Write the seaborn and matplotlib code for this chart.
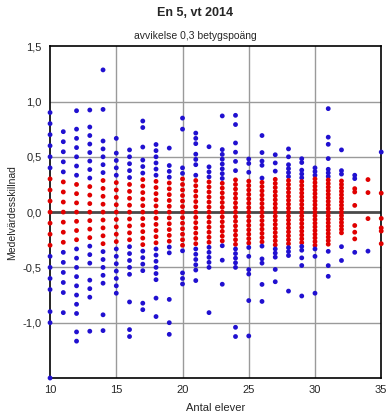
import numpy as np
import pandas as pd
import matplotlib
matplotlib.use("Agg")
import matplotlib.pyplot as plt
import seaborn as sns

# Summa avvikelse (betygspoäng) per klass, avläst i diagrammet, per antal elever
n10 = [9, 8, 7, 6, 5, 4, 3, 2, 1, 0, -1, -2, -3, -4, -5, -6, -7, -9, -10, -15]
n11 = [8, 7, 6, 5, 4, 3, 2, 1, 0, -1, -2, -3, -4, -5, -6, -7, -8, -10]
n12 = [11, 9, 8, 7, 6, 5, 4, 3, 2, 1, 0, -1, -2, -3, -4, -5, -6, -7, -8, -9, -10, -11, -13, -14]
n13 = [12, 10, 9, 8, 7, 6, 5, 4, 3, 2, 1, 0, -1, -2, -3, -4, -5, -6, -8, -9, -10, -14]
n14 = [18, 13, 9, 8, 7, 6, 5, 4, 3, 2, 1, 0, -1, -2, -3, -4, -5, -6, -7, -8, -9, -13, -15]
n15 = [10, 8, 7, 6, 5, 4, 3, 2, 1, 0, -1, -2, -3, -4, -5, -6, -7, -8, -9, -10, -11]
n16 = [9, 8, 7, 6, 5, 4, 3, 2, 1, 0, -1, -2, -3, -4, -5, -6, -7, -8, -9, -13, -17, -18]
n17 = [14, 13, 10, 8, 7, 6, 5, 4, 3, 2, 1, 0, -1, -2, -3, -4, -5, -6, -7, -8, -9, -14, -15]
n18 = [11, 10, 9, 8, 7, 6, 5, 4, 3, 2, 1, 0, -1, -2, -3, -4, -5, -6, -7, -8, -9, -10, -11, -14, -17]
n19 = [11, 8, 7, 6, 5, 4, 3, 2, 1, 0, -1, -2, -3, -4, -5, -6, -7, -15, -19, -21]
n20 = [17, 15, 8, 7, 6, 5, 4, 3, 2, 1, 0, -1, -2, -3, -4, -5, -6, -7, -11, -12, -13]
n21 = [15, 14, 13, 11, 10, 9, 7, 6, 5, 4, 3, 2, 1, 0, -1, -2, -3, -4, -5, -6, -7, -8, -9, -10, -11, -13]
n22 = [13, 9, 8, 7, 6, 5, 4, 3, 2, 1, 0, -1, -2, -3, -4, -5, -6, -7, -8, -9, -10, -11, -20]
n23 = [20, 13, 12, 11, 10, 9, 8, 7, 6, 5, 4, 3, 2, 1, 0, -1, -2, -3, -4, -5, -6, -7, -10, -15]
n24 = [21, 19, 15, 13, 11, 9, 7, 6, 5, 4, 3, 2, 1, 0, -1, -2, -3, -4, -5, -6, -7, -8, -9, -10, -11, -12, -25, -27]
n25 = [12, 11, 9, 7, 6, 5, 4, 3, 2, 1, 0, -1, -2, -3, -4, -5, -6, -7, -8, -10, -13, -14, -20, -28]
n26 = [18, 14, 12, 11, 8, 7, 6, 5, 4, 3, 2, 1, 0, -1, -2, -3, -4, -5, -6, -7, -8, -11, -12, -17, -21]
n27 = [14, 12, 10, 8, 7, 6, 5, 4, 3, 2, 1, 0, -1, -2, -3, -4, -5, -6, -7, -8, -9, -10, -11, -14, -17]
n28 = [16, 14, 12, 11, 10, 9, 8, 7, 6, 5, 4, 3, 2, 1, 0, -1, -2, -3, -4, -5, -6, -7, -8, -9, -10, -11, -20]
n29 = [14, 13, 11, 10, 9, 8, 7, 6, 5, 4, 3, 2, 1, 0, -1, -2, -3, -4, -5, -6, -7, -8, -9, -10, -12, -14, -22]
n30 = [12, 11, 10, 9, 8, 7, 6, 5, 4, 3, 2, 1, 0, -1, -2, -3, -4, -5, -6, -7, -8, -9, -10, -12, -22]
n31 = [29, 21, 19, 15, 12, 11, 10, 9, 8, 7, 6, 5, 4, 3, 2, 1, 0, -1, -2, -3, -4, -5, -6, -7, -8, -9, -11, -15, -18]
n32 = [18, 12, 11, 9, 8, 7, 6, 5, 4, 3, 2, 1, 0, -1, -2, -3, -4, -5, -6, -10, -14]
n33 = [11, 10, 7, 6, 2, -4, -6, -8, -12]
n34 = [10, 6, -2, -12]
n35 = [19, 6, -2, -5, -6, -10]

class_sizes = list(range(10, 36))
sums = [n10, n11, n12, n13, n14, n15, n16, n17, n18, n19, n20, n21, n22,
        n23, n24, n25, n26, n27, n28, n29, n30, n31, n32, n33, n34, n35]

y_ticks = [-1.0, -0.5, 0.0, 0.5, 1.0, 1.5]
y_labels = ["-1,0", "-0,5", "0,0", "0,5", "1,0", "1,5"]
x_ticks = [10, 15, 20, 25, 30, 35]
limit = 0.3

rows = []
for n, ks in zip(class_sizes, sums):
    for k in ks:
        d = k / n
        rows.append({"antal": n, "diff": d,
                     "typ": "over" if abs(d) > limit + 1e-9 else "inom"})
df = pd.DataFrame(rows)

sns.set_style("white")
plt.rcParams['font.family'] = ['Liberation Sans', 'DejaVu Sans']

fig = plt.figure(figsize=(3.91, 4.20), dpi=100)
ax = fig.add_axes([0.128, 0.10, 0.847, 0.79])

# grid lines
for x in [15, 20, 25, 30]:
    ax.axvline(x, color='#9a9a9a', lw=1, zorder=0)
for y in [-1.0, -0.5, 0.5, 1.0]:
    ax.axhline(y, color='#9a9a9a', lw=1, zorder=0)
ax.axhline(0, color='#4a4a4a', lw=2, zorder=1)

sns.scatterplot(data=df, x="antal", y="diff", hue="typ",
                palette={"inom": "#e00000", "over": "#2010d0"},
                s=12, linewidth=0, legend=False, ax=ax, zorder=3,
                clip_on=False)

ax.set_xlim(10, 35)
ax.set_ylim(-1.5, 1.5)
ax.set_xticks(x_ticks)
ax.set_xticklabels([str(t) for t in x_ticks], fontsize=8)
ax.set_yticks(y_ticks)
ax.set_yticklabels(y_labels, fontsize=8)
ax.tick_params(axis='both', direction='out', length=4, width=1, color='black', pad=2)
ax.tick_params(axis='x', length=0, pad=5)
for s in ax.spines.values():
    s.set_color('black')
    s.set_linewidth(1.2)

ax.set_xlabel("Antal elever", fontsize=8, labelpad=6)
ax.set_ylabel("Medelvärdesskillnad", fontsize=7.5, labelpad=4)
fig.text(0.5, 0.968, "En 5, vt 2014", ha='center', va='center',
         fontsize=9, fontweight='bold')
fig.text(0.5, 0.914, "avvikelse 0,3 betygspoäng", ha='center', va='center',
         fontsize=7.5)

fig.savefig("out.png", dpi=100)
